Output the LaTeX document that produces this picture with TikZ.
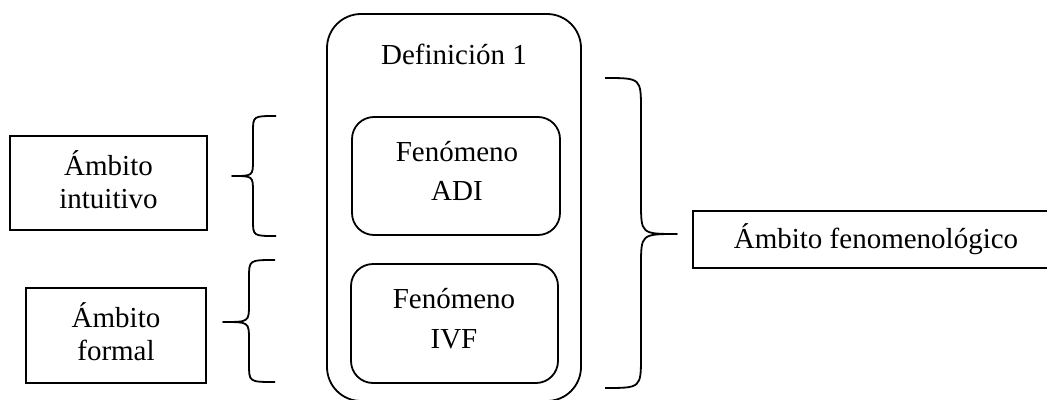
\documentclass[tikz,border=0pt]{standalone}
\usepackage{fontspec}
\setmainfont{Liberation Serif}
\begin{document}
\begin{tikzpicture}[x=1pt,y=-1pt,
  line width=1.8pt,
  txt/.style={anchor=base,inner sep=0pt,font=\fontsize{29}{34}\selectfont},
  sqbox/.style={draw,rectangle,inner sep=0pt},
  rbox/.style={draw,rectangle,rounded corners=22pt,inner sep=0pt},
  brace/.style={line width=1.8pt,line join=round}]
\useasboundingbox (0,0) rectangle (1047,399);
\clip (0,0) rectangle (1047,399);
% outer definition box
\draw[rounded corners=34pt] (327,14) rectangle (581,401);
\coordinate (defc) at (454,207);
\node[txt] (def) at (454,64) {Definición 1};
% inner boxes
\node[rbox,minimum width=208pt,minimum height=118pt] (adi) at (456,176) {};
\node[txt] (adi1) at (457,161) {Fenómeno};
\node[txt] (adi2) at (457,200) {ADI};
\node[rbox,minimum width=207pt,minimum height=119pt] (ivf) at (454.5,323.5) {};
\node[txt] (ivf1) at (454,308) {Fenómeno};
\node[txt] (ivf2) at (454,348) {IVF};
% left boxes
\node[sqbox,minimum width=197pt,minimum height=94pt] (intu) at (108.5,183) {};
\node[txt] (intu1) at (108.5,175) {Ámbito};
\node[txt] (intu2) at (108.5,208) {intuitivo};
\node[sqbox,minimum width=180pt,minimum height=95pt] (form) at (116,335.5) {};
\node[txt] (form1) at (116,327) {Ámbito};
\node[txt] (form2) at (116,360) {formal};
% right box
\node[sqbox,minimum width=370pt,minimum height=57pt] (fen) at (878,239.5) {};
\node[txt] (fen1) at (876,248) {Ámbito fenomenológico};
% braces
\coordinate (b1tip) at (232,176);
\draw[brace] (276,116) .. controls (253,116) .. (253,132) -- (253,160)
  .. controls (253,176) .. (b1tip) .. controls (253,176) .. (253,192)
  -- (253,220) .. controls (253,236) .. (276,236);
\coordinate (b2tip) at (223,322);
\draw[brace] (275,260) .. controls (249,260) .. (249,278) -- (249,304)
  .. controls (249,322) .. (b2tip) .. controls (249,322) .. (249,340)
  -- (249,364) .. controls (249,382) .. (275,382);
\coordinate (b3tip) at (677,234);
\draw[brace] (605,78) .. controls (641,78) .. (641,110) -- (641,202)
  .. controls (641,234) .. (b3tip) .. controls (641,234) .. (641,266)
  -- (641,356) .. controls (641,388) .. (605,388);
\end{tikzpicture}
\end{document}
